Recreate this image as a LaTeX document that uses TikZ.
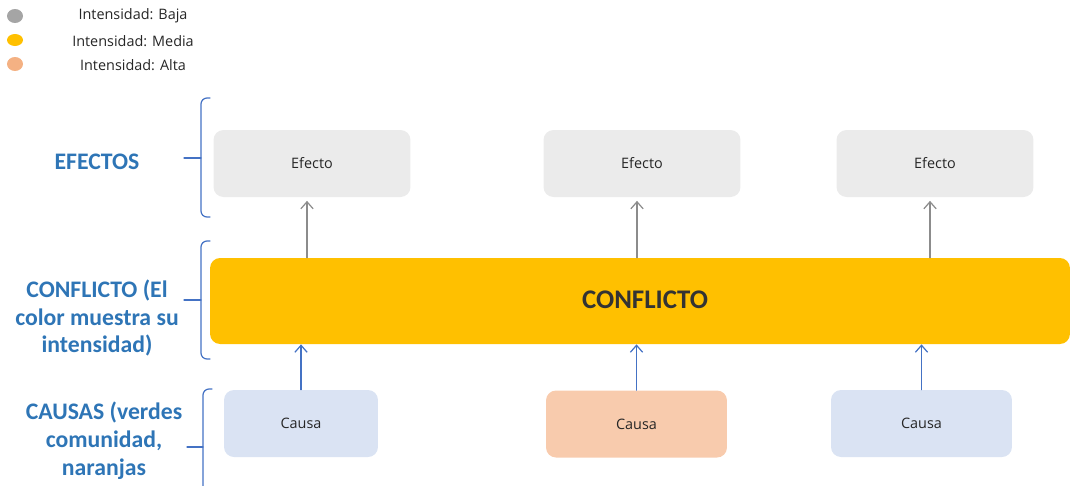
\documentclass[tikz,border=0pt]{standalone}
\usepackage{fontspec}
\setmainfont{Carlito}
\newfontfamily\uifont{Open Sans}
\usetikzlibrary{arrows.meta}
\definecolor{etiqueta}{HTML}{2E75B6}
\definecolor{llave}{HTML}{4472C4}
\definecolor{gris}{HTML}{EBEBEB}
\definecolor{amarillo}{HTML}{FFC000}
\definecolor{azulclaro}{HTML}{DAE3F3}
\definecolor{naranja}{HTML}{F8CBAD}
\definecolor{baja}{HTML}{A5A5A5}
\definecolor{alta}{HTML}{F4B183}
\tikzset{
  efectobox/.style={fill=gris, rounded corners=0.2cm, minimum width=3.94cm, minimum height=1.34cm, font=\uifont\fontsize{8.2}{10}\selectfont, text=black!85},
  causabox/.style={efectobox, minimum width=3.62cm},
  nivel/.style={text=etiqueta, font=\bfseries\fontsize{13.5}{15.9}\selectfont, align=center},
  leyenda/.style={font=\uifont\fontsize{8.2}{10}\selectfont, text=black!85},
  llaveline/.style={draw=llave, line width=0.7pt, rounded corners=0.12cm},
}
\begin{document}
\begin{tikzpicture}[x=0.02cm, y=-0.02cm, >={Straight Barb[length=4pt,width=7pt]}, line cap=round]
	\useasboundingbox (0,0) rectangle (1071,485);
	% leyenda
	\fill[baja] (15,16) ellipse (8 and 7);
	\fill[amarillo] (15,40) ellipse (8 and 6);
	\fill[alta] (15,64) ellipse (8 and 7);
	\node[leyenda] (l1) at (133,16) {Intensidad: Baja};
	\node[leyenda] (l2) at (133,41) {Intensidad: Media};
	\node[leyenda] (l3) at (133,65) {Intensidad: Alta};
	% niveles
	\node[nivel] (nefectos) at (97,162) {EFECTOS};
	\node[nivel] (nconflicto) at (97,318) {CONFLICTO (El\\color muestra su\\intensidad)};
	\node[nivel] (ncausas) at (104,441) {CAUSAS (verdes\\comunidad,\\naranjas};
	\draw[llaveline] (210,98) -- (201,98) -- (201,217) -- (210,217);
	\draw[llaveline] (201,158) -- (184,158);
	\draw[llaveline] (210,241) -- (201,241) -- (201,359) -- (210,359);
	\draw[llaveline] (201,300) -- (184,300);
	\draw[llaveline] (212,389) -- (203,389) -- (203,500);
	\draw[llaveline] (203,447) -- (187,447);
	% efectos
	\node[efectobox] (e1) at (312,163.5) {Efecto};
	\node[efectobox] (e2) at (642,163.5) {Efecto};
	\node[efectobox] (e3) at (935,163.5) {Efecto};
	% conflicto
	\node[fill=amarillo, rounded corners=0.2cm, minimum width=17.2cm, minimum height=1.72cm, text=black!80] (conf) at (640,301) {};
	\node[font=\bfseries\fontsize{15.3}{18}\selectfont, text=black!80] (conftxt) at (645,300) {CONFLICTO};
	% causas
	\node[causabox, fill=azulclaro, minimum width=3.08cm] (c1) at (301,423.5) {Causa};
	\node[causabox, fill=naranja] (c2) at (636.5,424) {Causa};
	\node[causabox, fill=azulclaro] (c3) at (921.5,423.5) {Causa};
	% flechas
	\foreach \e in {e1,e2,e3}
		\draw[->, draw=black!45, line width=0.7pt, shorten >=2pt] ([xshift=-0.1cm]\e.south |- conf.north) -- ([xshift=-0.1cm]\e.south);
	\foreach \c in {c1,c2,c3}
		\draw[->, draw=llave, line width=0.7pt] (\c.north) -- (\c.north |- conf.south);
\end{tikzpicture}
\end{document}
